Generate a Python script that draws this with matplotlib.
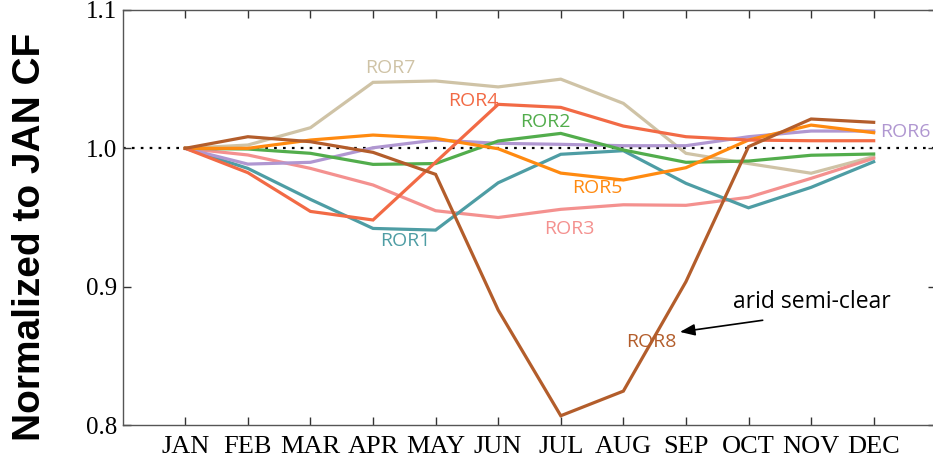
import matplotlib
matplotlib.use("Agg")
import matplotlib.pyplot as plt

months = ["JAN", "FEB", "MAR", "APR", "MAY", "JUN", "JUL", "AUG", "SEP", "OCT", "NOV", "DEC"]

ror1 = [1.000, 0.9855, 0.9631, 0.9421, 0.9409, 0.9751, 0.9957, 0.9983, 0.9747, 0.9570, 0.9718, 0.9903]
ror2 = [1.000, 0.9995, 0.9964, 0.9884, 0.9890, 1.0053, 1.0108, 0.9988, 0.9899, 0.9908, 0.9950, 0.9959]
ror3 = [1.000, 0.9952, 0.9855, 0.9735, 0.9549, 0.9500, 0.9559, 0.9592, 0.9588, 0.9646, 0.9783, 0.9928]
ror4 = [1.000, 0.9824, 0.9544, 0.9482, 0.9900, 1.0318, 1.0296, 1.0161, 1.0084, 1.0060, 1.0055, 1.0055]
ror5 = [1.000, 1.0000, 1.0060, 1.0096, 1.0072, 0.9997, 0.9821, 0.9771, 0.9860, 1.0060, 1.0168, 1.0113]
ror6 = [1.000, 0.9886, 0.9899, 1.0004, 1.0060, 1.0036, 1.0029, 1.0019, 1.0019, 1.0084, 1.0125, 1.0125]
ror7 = [1.000, 1.0024, 1.0149, 1.0477, 1.0487, 1.0444, 1.0500, 1.0325, 0.9964, 0.9890, 0.9820, 0.9940]
ror8 = [1.000, 1.0084, 1.0048, 0.9971, 0.9812, 0.8831, 0.8067, 0.8245, 0.9036, 1.0012, 1.0212, 1.0188]

series = [
    ("ROR1", ror1, "#4e9da4", (3.52, 0.933)),
    ("ROR2", ror2, "#52ad4c", (5.75, 1.019)),
    ("ROR3", ror3, "#f4918f", (6.13, 0.942)),
    ("ROR4", ror4, "#f26a45", (4.60, 1.034)),
    ("ROR5", ror5, "#ff8a10", (6.58, 0.971)),
    ("ROR6", ror6, "#b097d1", (11.50, 1.012)),
    ("ROR7", ror7, "#cfc3a6", (3.27, 1.058)),
    ("ROR8", ror8, "#b35d2b", (7.45, 0.860)),
]

fig = plt.figure(figsize=(9.33, 4.65), dpi=100)
ax = fig.add_axes([0.1315, 0.086, 0.872, 0.8925])

x = list(range(len(months)))
ax.axhline(1.0, color="black", lw=1.6, ls=(0, (1.2, 2.8)), zorder=1)

draw_order = ["ROR7", "ROR3", "ROR1", "ROR6", "ROR2", "ROR5", "ROR4", "ROR8"]
lookup = {s[0]: s for s in series}
for name in draw_order:
    nm, vals, col, pos = lookup[name]
    ax.plot(x, vals, color=col, lw=2.3, zorder=2, solid_joinstyle="miter")
for nm, vals, col, pos in series:
    ax.text(pos[0], pos[1], nm, color=col, fontsize=14, family="Open Sans",
            ha="center", va="center", zorder=3)

ax.annotate("", xy=(7.86, 0.867), xytext=(9.27, 0.876),
            arrowprops=dict(arrowstyle="-|>,head_length=0.9,head_width=0.35",
                            color="black", lw=1.2), zorder=4)
ax.text(10.02, 0.889, "arid semi-clear", fontsize=16.5, family="Open Sans",
        ha="center", va="center", color="black")

ax.set_xlim(-1, 12)
ax.set_ylim(0.8, 1.1)
ax.set_xticks(x)
ax.set_xticklabels(months, family="Liberation Serif", fontsize=19)
ax.set_yticks([0.8, 0.9, 1.0, 1.1])
ax.set_yticklabels(["0.8", "0.9", "1.0", "1.1"], family="Liberation Serif", fontsize=18)
ax.tick_params(direction="in", length=6, width=1, color="#333333",
               top=True, right=True, pad=8)
ax.tick_params(axis="y", pad=4)
for sp in ax.spines.values():
    sp.set_color("#555555")
    sp.set_linewidth(1.0)

fig.text(0.032, 0.49, "Normalized to JAN CF", rotation=90, fontsize=28,
         fontweight="bold", family="Liberation Sans", ha="center", va="center")

fig.savefig("out.png", dpi=100)
